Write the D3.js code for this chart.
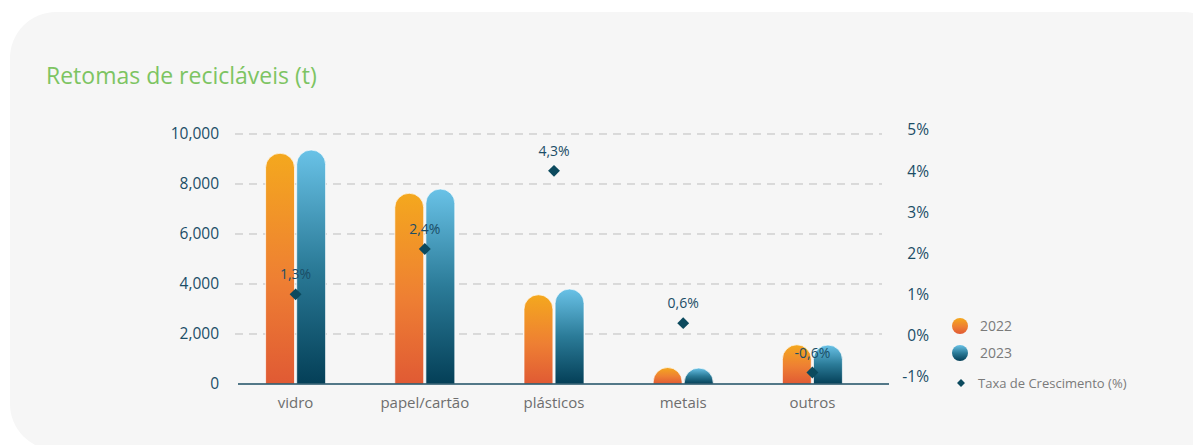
<!DOCTYPE html>
<html>
<head>
<meta charset="utf-8">
<script src="https://cdn.jsdelivr.net/npm/d3@7"></script>
<style>
  html, body { margin: 0; padding: 0; background: #ffffff; }
  svg { display: block; font-family: "Open Sans", "Noto Sans", sans-serif; }
</style>
</head>
<body>
<svg id="chart" width="1193" height="445"></svg>
<script>
// Recycled material take-back (tonnes), 2022 vs 2023, with growth rate
const categories = ["vidro", "papel/cartão", "plásticos", "metais", "outros"];
const years = ["2022", "2023"];
const values2022 = [9230, 7630, 3570, 660, 1570];
const values2023 = [9360, 7800, 3800, 640, 1560];
const growth = [1.3, 2.4, 4.3, 0.6, -0.6];
const leftTicks = [0, 2000, 4000, 6000, 8000, 10000];
const rightTicks = [-1, 0, 1, 2, 3, 4, 5];

const FONT = '"Open Sans", "Noto Sans", sans-serif';
const svg = d3.select("#chart");
const defs = svg.append("defs");

// card background
svg.append("rect")
  .attr("x", 10).attr("y", 12)
  .attr("width", 1220).attr("height", 438)
  .attr("rx", 46).attr("ry", 46)
  .attr("fill", "#f6f6f6");

svg.append("text")
  .attr("x", 46).attr("y", 84)
  .attr("font-size", 23)
  .attr("fill", "#7dc462")
  .text("Retomas de recicláveis (t)");

// gradients for each year
const grads = {
  "2022": [["0%", "#f4a81e"], ["55%", "#ee7f33"], ["100%", "#e05a34"]],
  "2023": [["0%", "#69c2e7"], ["50%", "#2b7b98"], ["100%", "#043f57"]]
};
Object.entries(grads).forEach(([k, stops]) => {
  const g = defs.append("linearGradient")
    .attr("id", "g" + k).attr("x1", 0).attr("y1", 0).attr("x2", 0).attr("y2", 1);
  stops.forEach(([o, c]) => g.append("stop").attr("offset", o).attr("stop-color", c));
});

const x = d3.scaleBand().domain(categories).range([231, 877]);
const xi = d3.scaleBand().domain(years).range([0, 60]).paddingInner(0.07);
const y = d3.scaleLinear().domain([0, 10000]).range([384, 134]);
const y2 = d3.scaleLinear().domain([-1, 5]).range([389, 142]);

// gridlines
svg.append("g").selectAll("line")
  .data(leftTicks.filter(d => d > 0))
  .join("line")
  .attr("x1", 235).attr("x2", 882)
  .attr("y1", d => y(d)).attr("y2", d => y(d))
  .attr("stroke", "#bdbdbd").attr("stroke-width", 1)
  .attr("stroke-dasharray", "8,6");

// left axis
const leftAxis = d3.axisLeft(y).tickValues(leftTicks).tickSize(0).tickPadding(0)
  .tickFormat(d3.format(","));
const gl = svg.append("g").attr("transform", "translate(219,0)").call(leftAxis)
  .attr("font-family", FONT).attr("font-size", 15.5);
gl.select(".domain").remove();
gl.selectAll("text").attr("fill", "#1b4d66");

// right axis
const rightAxis = d3.axisRight(y2).tickValues(rightTicks).tickSize(0).tickPadding(0)
  .tickFormat(d => d + "%");
const gr = svg.append("g").attr("transform", "translate(929,-12)").call(rightAxis)
  .attr("font-family", FONT).attr("font-size", 15.5);
gr.select(".domain").remove();
gr.selectAll("text").attr("fill", "#1b4d66").attr("text-anchor", "end");

// bars with rounded tops
function barPath(x0, w, yTop, yBase) {
  const r = w / 2;
  const h = yBase - yTop;
  if (h <= r) {
    return `M${x0},${yBase} A${r},${h} 0 0 1 ${x0 + w},${yBase} Z`;
  }
  return `M${x0},${yBase} L${x0},${yTop + r} A${r},${r} 0 0 1 ${x0 + w},${yTop + r} L${x0 + w},${yBase} Z`;
}

const barData = [];
categories.forEach((c, i) => {
  barData.push({ cat: c, year: "2022", v: values2022[i] });
  barData.push({ cat: c, year: "2023", v: values2023[i] });
});

const xOff = (x.bandwidth() - 60) / 2;
svg.append("g").selectAll("path")
  .data(barData)
  .join("path")
  .attr("d", d => barPath(x(d.cat) + xOff + xi(d.year), xi.bandwidth(), y(d.v), y(0)))
  .attr("fill", d => "url(#g" + d.year + ")")
  .attr("stroke", "#ffffff").attr("stroke-opacity", 0.7).attr("stroke-width", 1);

// baseline
svg.append("line")
  .attr("x1", 238).attr("x2", 889)
  .attr("y1", y(0)).attr("y2", y(0))
  .attr("stroke", "#1c4e63").attr("stroke-width", 1.5);

// category labels
svg.append("g").selectAll("text")
  .data(categories)
  .join("text")
  .attr("x", d => x(d) + x.bandwidth() / 2)
  .attr("y", 408)
  .attr("text-anchor", "middle")
  .attr("font-size", 15)
  .attr("fill", "#6e6e6e")
  .text(d => d);

// growth markers
const diamond = d3.symbol().type(d3.symbolDiamond2).size(90);
const gm = svg.append("g");
gm.selectAll("path")
  .data(growth)
  .join("path")
  .attr("transform", (d, i) => `translate(${x(categories[i]) + x.bandwidth() / 2},${y2(d)})`)
  .attr("d", diamond)
  .attr("fill", "#0c4a5e");
gm.selectAll("text")
  .data(growth)
  .join("text")
  .attr("x", (d, i) => x(categories[i]) + x.bandwidth() / 2)
  .attr("y", d => y2(d) - 15)
  .attr("text-anchor", "middle")
  .attr("font-size", 14)
  .attr("fill", "#1b4d66")
  .text(d => d.toFixed(1).replace(".", ",") + "%");

// legend
const legend = svg.append("g");
years.forEach((yr, i) => {
  const ly = 326 + i * 27;
  legend.append("circle").attr("cx", 960).attr("cy", ly).attr("r", 8)
    .attr("fill", "url(#g" + yr + ")");
  legend.append("text").attr("x", 980).attr("y", ly).attr("dy", "0.35em")
    .attr("font-size", 14).attr("fill", "#7a7a7a").text(yr);
});
legend.append("path")
  .attr("transform", "translate(961,383)")
  .attr("d", d3.symbol().type(d3.symbolDiamond2).size(40))
  .attr("fill", "#0c4a5e");
legend.append("text").attr("x", 978).attr("y", 383).attr("dy", "0.35em")
  .attr("font-size", 13).attr("fill", "#7a7a7a").text("Taxa de Crescimento (%)");
</script>
</body>
</html>
